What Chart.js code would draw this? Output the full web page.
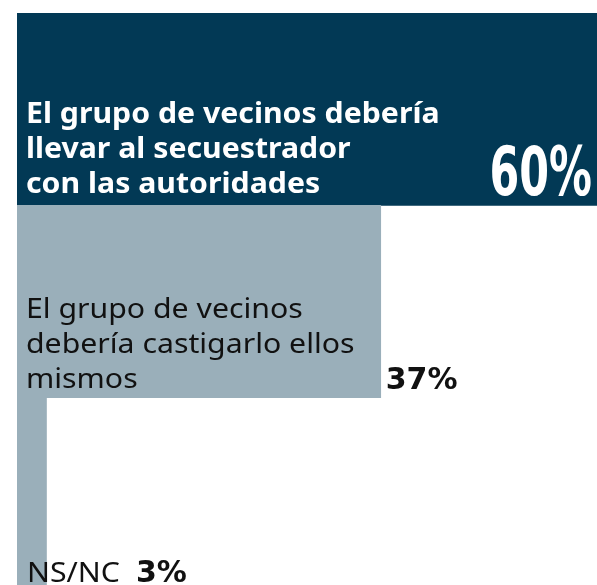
<!DOCTYPE html>
<html>
<head>
<meta charset="utf-8">
<script src="https://cdn.jsdelivr.net/npm/chart.js@4"></script>
<style>
  html, body { margin: 0; padding: 0; background: #fff; }
  #wrap { width: 597px; height: 585px; position: relative; overflow: hidden; }
</style>
</head>
<body>
<div id="wrap"><canvas id="chart" width="597" height="590"></canvas></div>
<script>
// ── Data ──
const categories = [
  ['El grupo de vecinos debería', 'llevar al secuestrador', 'con las autoridades'],
  ['El grupo de vecinos', 'debería castigarlo ellos', 'mismos'],
  ['NS/NC']
];
const values     = [60, 37, 3];
const valueTexts = ['60%', '37%', '3%'];
const barColors  = ['#023955', '#9aafba', '#9aafba'];

// draw text stretched horizontally (reference face is wider than Noto Sans)
function wideText(ctx, txt, x, y, sx) {
  ctx.save();
  ctx.translate(x, y);
  ctx.scale(sx, 1);
  ctx.fillText(txt, 0, 0);
  ctx.restore();
  return ctx.measureText(txt).width * sx;
}

// ── Label plugin ──
const labelPlugin = {
  id: 'barLabels',
  afterDatasetsDraw(chart) {
    const ctx  = chart.ctx;
    const meta = chart.getDatasetMeta(0);
    ctx.save();
    ctx.textBaseline = 'alphabetic';
    ctx.textAlign = 'left';
    meta.data.forEach((bar, i) => {
      const bottom = bar.y + bar.height / 2;
      const left   = bar.base;
      const lines  = categories[i];
      const lh     = 35;

      if (i === 0) {
        ctx.fillStyle = '#fff';
        ctx.font = 'bold 28px "Noto Sans"';
        lines.forEach((l, k) => wideText(ctx, l, left + 9, bottom - 12 - (lines.length - 1 - k) * lh, 1.08));
        // big condensed value, right edge of the visible plot
        ctx.save();
        ctx.font = 'bold 68px "DejaVu Sans"';
        ctx.textAlign = 'right';
        ctx.translate(chart.chartArea.right - 5, bottom - 10);
        ctx.scale(0.63, 1);
        ctx.fillText(valueTexts[i], 0, 0);
        ctx.restore();
      } else if (i === 1) {
        ctx.fillStyle = '#111';
        ctx.font = '27px "Noto Sans"';
        lines.forEach((l, k) => wideText(ctx, l, left + 9, bottom - 10 - (lines.length - 1 - k) * lh, 1.12));
        ctx.font = 'bold 30px "DejaVu Sans"';
        ctx.fillText(valueTexts[i], bar.x + 5, bottom - 9);
      } else {
        // bottom of the visible page, bar runs past it
        const yb = 582;
        ctx.fillStyle = '#111';
        ctx.font = '27px "Noto Sans"';
        const w = wideText(ctx, lines[0], left + 10, yb, 1.12);
        ctx.font = 'bold 30px "DejaVu Sans"';
        ctx.fillText(valueTexts[i], left + 10 + w + 16, yb);
      }
    });
    ctx.restore();
  }
};

// ── Chart ──
new Chart(document.getElementById('chart').getContext('2d'), {
  type: 'bar',
  data: {
    labels: categories.map(c => c.join(' ')),
    datasets: [{
      data: values,
      backgroundColor: barColors,
      borderWidth: 0,
      categoryPercentage: 1,
      barPercentage: 1
    }]
  },
  options: {
    indexAxis: 'y',
    responsive: false,
    animation: false,
    layout: { padding: { left: 17, top: 13, right: 0, bottom: 0 } },
    plugins: { legend: { display: false }, tooltip: { enabled: false } },
    scales: {
      x: { display: false, min: 0, max: 59, grid: { display: false } },
      y: { display: false, grid: { display: false } }
    }
  },
  plugins: [labelPlugin]
});
</script>
</body>
</html>
